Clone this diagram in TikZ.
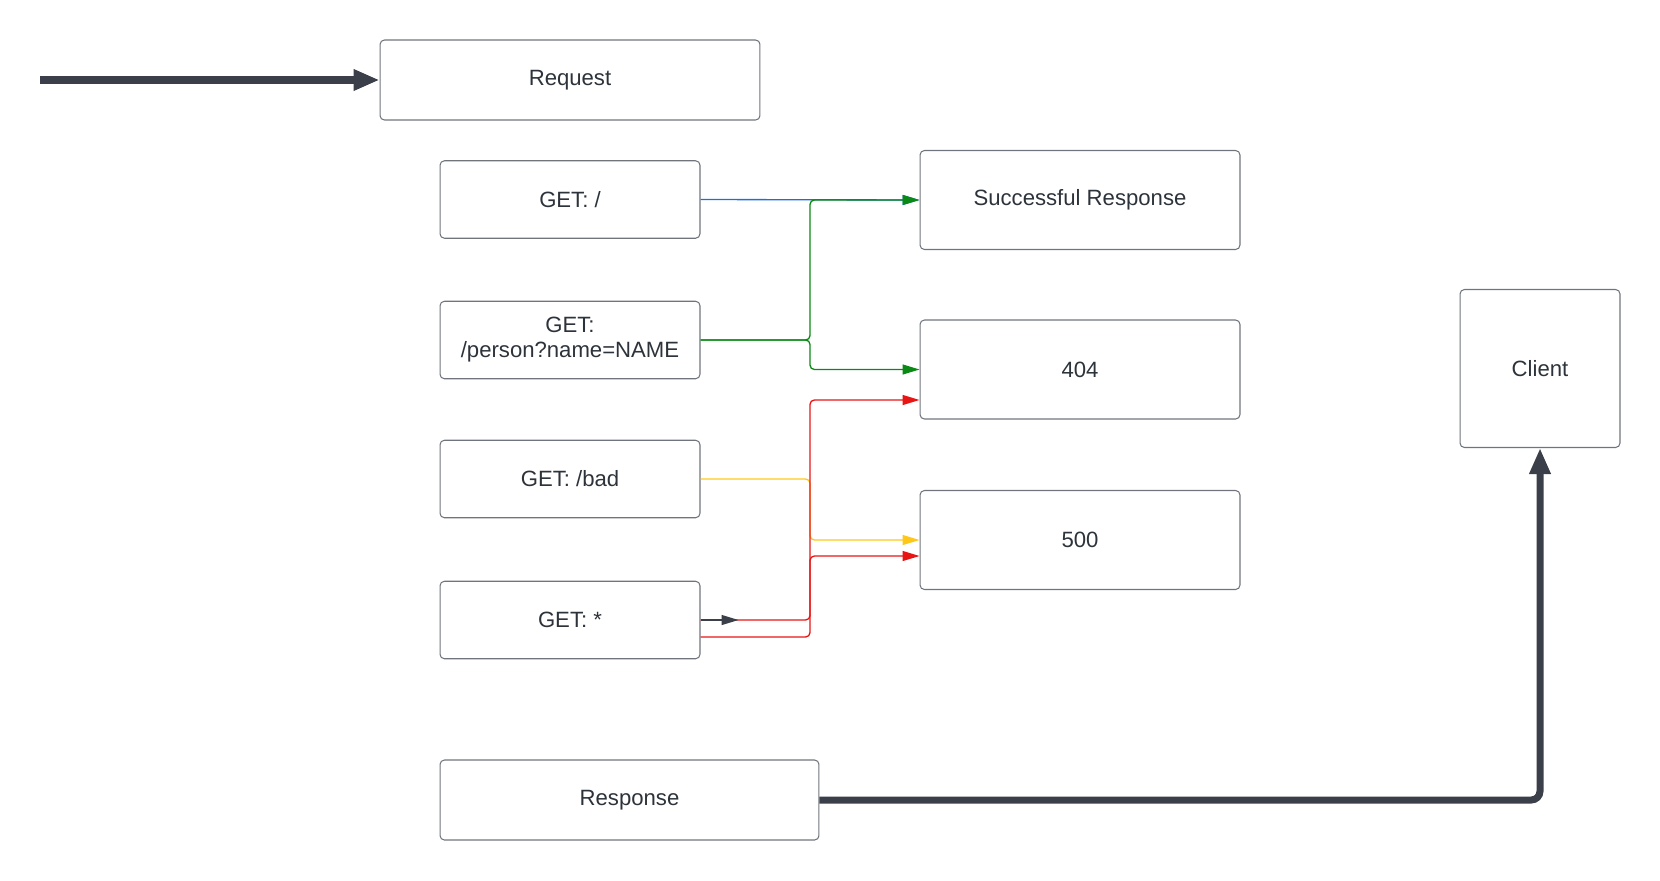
\documentclass[tikz,border=0pt]{standalone}
\usepackage{fontspec}
\setmainfont{Liberation Sans}
\usetikzlibrary{arrows.meta}
\definecolor{boxline}{HTML}{70757D}
\definecolor{textgray}{HTML}{2D333A}
\definecolor{flowdark}{HTML}{3A3F4A}
\definecolor{okgreen}{HTML}{0A8A14}
\definecolor{rootblue}{HTML}{1A6FE0}
\definecolor{badyellow}{HTML}{FFC819}
\definecolor{errred}{HTML}{E81515}
\begin{document}
\begin{tikzpicture}[x=0.02cm,y=-0.02cm,font=\fontsize{12.6}{14.2}\selectfont,text=textgray,
  box/.style={draw=boxline,line width=0.6pt,rounded corners=2.5pt,align=center,inner sep=1pt},
  wire/.style={line width=0.75pt,rounded corners=2.5pt,-{Triangle[length=0.34cm,width=0.2cm]}},
  bigflow/.style={flowdark,line width=4pt,rounded corners=5pt,-{Triangle[length=0.52cm,width=0.4cm]}}]
\useasboundingbox (0,0) rectangle (1660,880);
\node[box,minimum width=7.6cm,minimum height=1.6cm] (req) at (570,80) {Request};
\node[box,minimum width=5.2cm,minimum height=1.55cm] (getroot) at (570,199.5) {GET: /};
\node[box,minimum width=5.2cm,minimum height=1.55cm] (getperson) at (570,340) {GET:\\/person?name=NAME};
\node[box,minimum width=5.2cm,minimum height=1.55cm] (getbad) at (570,479) {GET: /bad};
\node[box,minimum width=5.2cm,minimum height=1.55cm] (getany) at (570,620) {GET: *};
\node[box,minimum width=7.58cm,minimum height=1.6cm] (resp) at (629.5,800) {Response};
\node[box,minimum width=6.4cm,minimum height=1.98cm] (ok) at (1080,200) {Successful Response};
\node[box,minimum width=6.4cm,minimum height=1.98cm] (nf) at (1080,369.5) {404};
\node[box,minimum width=6.4cm,minimum height=1.98cm] (ise) at (1080,540) {500};
\node[box,minimum width=3.2cm,minimum height=3.16cm] (client) at (1540,368.5) {Client};
\coordinate (entry) at (40,80);
\coordinate (bus) at (810,0);
\coordinate (nferr) at ([yshift=-0.61cm]nf.west);
\coordinate (iseerr) at ([yshift=-0.32cm]ise.west);
\coordinate (anylow) at ([yshift=-0.34cm]getany.east);
% incoming request and outgoing response
\draw[bigflow] (entry) -- (req.west);
\draw[bigflow] (resp.east) -| (client.south);
% routes
\draw[wire,rootblue] (getroot.east) -- (ok.west);
\draw[wire,okgreen] (getperson.east) -- (getperson.east -| bus) -- (bus |- ok.west) -- (ok.west);
\draw[wire,okgreen] (getperson.east) -- (getperson.east -| bus) -- (bus |- nf.west) -- (nf.west);
\draw[wire,badyellow] (getbad.east) -- (getbad.east -| bus) -- (bus |- ise.west) -- (ise.west);
\draw[wire,errred] (getany.east) -- (getany.east -| bus) -- (bus |- nferr) -- (nferr);
\draw[wire,errred] (anylow) -- (anylow -| bus) -- (bus |- iseerr) -- (iseerr);
\draw[wire,flowdark] (getany.east) -- ++(38,0);
\end{tikzpicture}
\end{document}
